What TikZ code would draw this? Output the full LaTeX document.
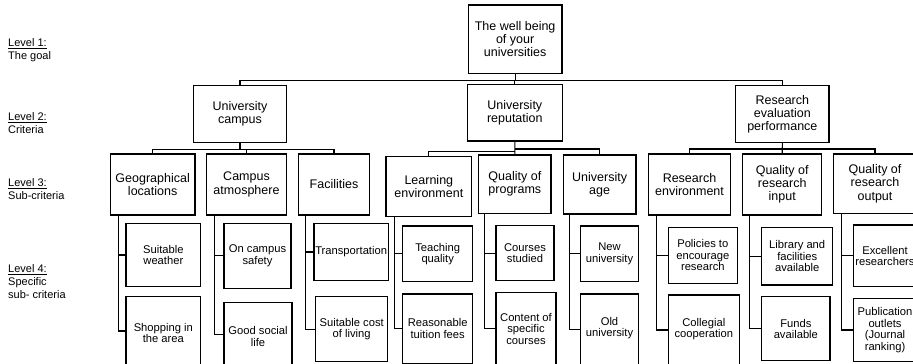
\documentclass[tikz,border=0pt]{standalone}
\usepackage{fontspec}
\setmainfont{Liberation Sans}
\begin{document}
\begin{tikzpicture}[x=1pt,y=-1pt,
  box/.style={draw=black, line width=1.3pt, inner sep=0pt, line join=miter},
  conn/.style={draw=black, line width=1.1pt, line join=miter},
  tbig/.style={align=center, inner sep=0pt, font=\fontsize{12.5}{13.2}\selectfont},
  tsmall/.style={align=center, inner sep=0pt, font=\fontsize{11.2}{11.4}\selectfont},
  tlev/.style={align=left, anchor=west, inner sep=0pt, font=\fontsize{11}{12.8}\selectfont}]
\useasboundingbox (0,0) rectangle (913,364);
\clip (0,0) rectangle (913,364);
% box macro: [text yshift]{name}{x1}{y1}{x2}{y2}{style}{text}
\newcommand\bx[8][0]{%
  \node[box, minimum width={#5-#3}, minimum height={#6-#4}] (#2) at ({(#3+#5)/2},{(#4+#6)/2}) {};
  \node[#7] (#2-t) at ([yshift=#1pt]#2.center) {#8};}
% level labels
\node[tlev] (l1) at (8,50.5) {\underline{Level 1:}\\The goal};
\node[tlev] (l2) at (8,123) {\underline{Level 2:}\\Criteria};
\node[tlev] (l3) at (8,189) {\underline{Level 3:}\\Sub-criteria};
\node[tlev] (l4) at (8,281.3) {\underline{Level 4:}\\Specific\\sub- criteria};
% level 1 and 2
\bx{top}{468.3}{5}{562}{73.3}{tbig}{The well being\\of your\\universities}
\bx{campus}{193.7}{85.7}{286.3}{142.3}{tbig}{University\\campus}
\bx{reput}{467.3}{84.3}{562.3}{141}{tbig}{University\\reputation}
\bx{research}{735.7}{85.7}{829}{142.3}{tbig}{Research\\evaluation\\performance}
% level 3
\bx{geo}{110.3}{154}{195}{215}{tbig}{Geographical\\locations}
\bx{atm}{206.7}{154}{286.3}{215}{tbig}{Campus\\atmosphere}
\bx{fac}{298.3}{154}{369.7}{215}{tbig}{Facilities}
\bx{learn}{386}{156.7}{471.7}{216.7}{tbig}{Learning\\environment}
\bx{qprog}{478.7}{155}{551}{213.3}{tbig}{Quality of\\programs}
\bx{age}{563.3}{155}{636}{214}{tbig}{University\\age}
\bx{renv}{648.3}{154}{730.7}{215}{tbig}{Research\\environment}
\bx{qin}{742.7}{154}{821.7}{215}{tbig}{Quality of\\research\\input}
\bx{qout}{833.3}{154}{916.7}{213.3}{tbig}{Quality of\\research\\output}
% level 4
\bx{sw}{126}{223.3}{200.7}{286.7}{tsmall}{Suitable\\weather}
\bx[-2]{shop}{126}{296.7}{200.7}{365.3}{tsmall}{Shopping in\\the area}
\bx{safe}{224}{223.3}{291}{288.3}{tsmall}{On campus\\safety}
\bx[-2]{social}{224}{302.7}{292}{366}{tsmall}{Good social\\life}
\bx{trans}{314}{223.3}{388.3}{280.7}{tsmall}{Transportation}
\bx{cost}{315.7}{296.7}{387.7}{361.7}{tsmall}{Suitable cost\\of living}
\bx{teach}{402.7}{226}{472.7}{281.7}{tsmall}{Teaching\\quality}
\bx{reas}{402.7}{294}{472.7}{363.3}{tsmall}{Reasonable\\tuition fees}
\bx{courses}{496}{225.7}{554}{280.7}{tsmall}{Courses\\studied}
\bx{content}{496}{292.7}{556}{365}{tsmall}{Content of\\specific\\courses}
\bx{new}{580.7}{226}{638.3}{281.7}{tsmall}{New\\university}
\bx[1.5]{old}{580.7}{294}{638.3}{365}{tsmall}{Old\\university}
\bx{pol}{668.3}{227.3}{737.3}{283.3}{tsmall}{Policies to\\encourage\\research}
\bx[1]{coll}{668.3}{295}{739.3}{365}{tsmall}{Collegial\\cooperation}
\bx{lib}{761.7}{227.3}{832.7}{285}{tsmall}{Library and\\facilities\\available}
\bx{funds}{761.7}{296.7}{830}{360.7}{tsmall}{Funds\\available}
\bx{exc}{853.3}{225}{916.7}{286.7}{tsmall}{Excellent\\researchers}
\bx{pub}{853.3}{298.3}{916.7}{361.7}{tsmall}{Publication\\outlets\\(Journal\\ranking)}
% level 1 -> 2
\coordinate (b1) at ([yshift=-6.7pt]top.south);
\draw[conn] (top.south) -- (b1);
\draw[conn] (campus.north) |- (b1) -| (research.north);
\draw[conn] (reput.north) -- (reput.north |- b1);
% campus -> level 3
\coordinate (b2a) at ([yshift=-6.7pt]campus.south);
\draw[conn] (campus.south) -- (b2a);
\draw[conn] (geo.north) |- (b2a) -| (fac.north);
\draw[conn] (atm.north) -- (atm.north |- b2a);
% reputation -> level 3
\coordinate (b2b) at ([yshift=-7.3pt]reput.south);
\coordinate (b2c) at ([yshift=-10pt]reput.south);
\draw[conn] (reput.south) -- (qprog.north);
\draw[conn] (b2b) -| (age.north);
\draw[conn] (b2c) -| (learn.north);
% research -> level 3
\coordinate (b2d) at ([yshift=-6pt]research.south);
\draw[conn] (research.south) -- (qin.north);
\draw[conn] (renv.north) |- (b2d) -| (qout.north);
% level 3 -> 4
\coordinate (geo-x) at ([xshift=8.7pt]geo.south west);
\draw[conn] (geo-x) |- (shop.west); \draw[conn] (geo-x |- sw.west) -- (sw.west);
\coordinate (atm-x) at ([xshift=8.6pt]atm.south west);
\draw[conn] (atm-x) |- (social.west); \draw[conn] (atm-x |- safe.west) -- (safe.west);
\coordinate (fac-x) at ([xshift=7.7pt]fac.south west);
\draw[conn] (fac-x) |- (cost.west); \draw[conn] (fac-x |- trans.west) -- (trans.west);
\coordinate (learn-x) at ([xshift=9pt]learn.south west);
\draw[conn] (learn-x) |- (reas.west); \draw[conn] (learn-x |- teach.west) -- (teach.west);
\coordinate (qprog-x) at ([xshift=6.3pt]qprog.south west);
\draw[conn] (qprog-x) |- (content.west); \draw[conn] (qprog-x |- courses.west) -- (courses.west);
\coordinate (age-x) at ([xshift=6.7pt]age.south west);
\draw[conn] (age-x) |- (old.west); \draw[conn] (age-x |- new.west) -- (new.west);
\coordinate (renv-x) at ([xshift=9pt]renv.south west);
\draw[conn] (renv-x) |- (coll.west); \draw[conn] (renv-x |- pol.west) -- (pol.west);
\coordinate (qin-x) at ([xshift=7.3pt]qin.south west);
\draw[conn] (qin-x) |- (funds.west); \draw[conn] (qin-x |- lib.west) -- (lib.west);
\coordinate (qout-x) at ([xshift=8.4pt]qout.south west);
\draw[conn] (qout-x) |- (pub.west); \draw[conn] (qout-x |- exc.west) -- (exc.west);
\end{tikzpicture}
\end{document}
